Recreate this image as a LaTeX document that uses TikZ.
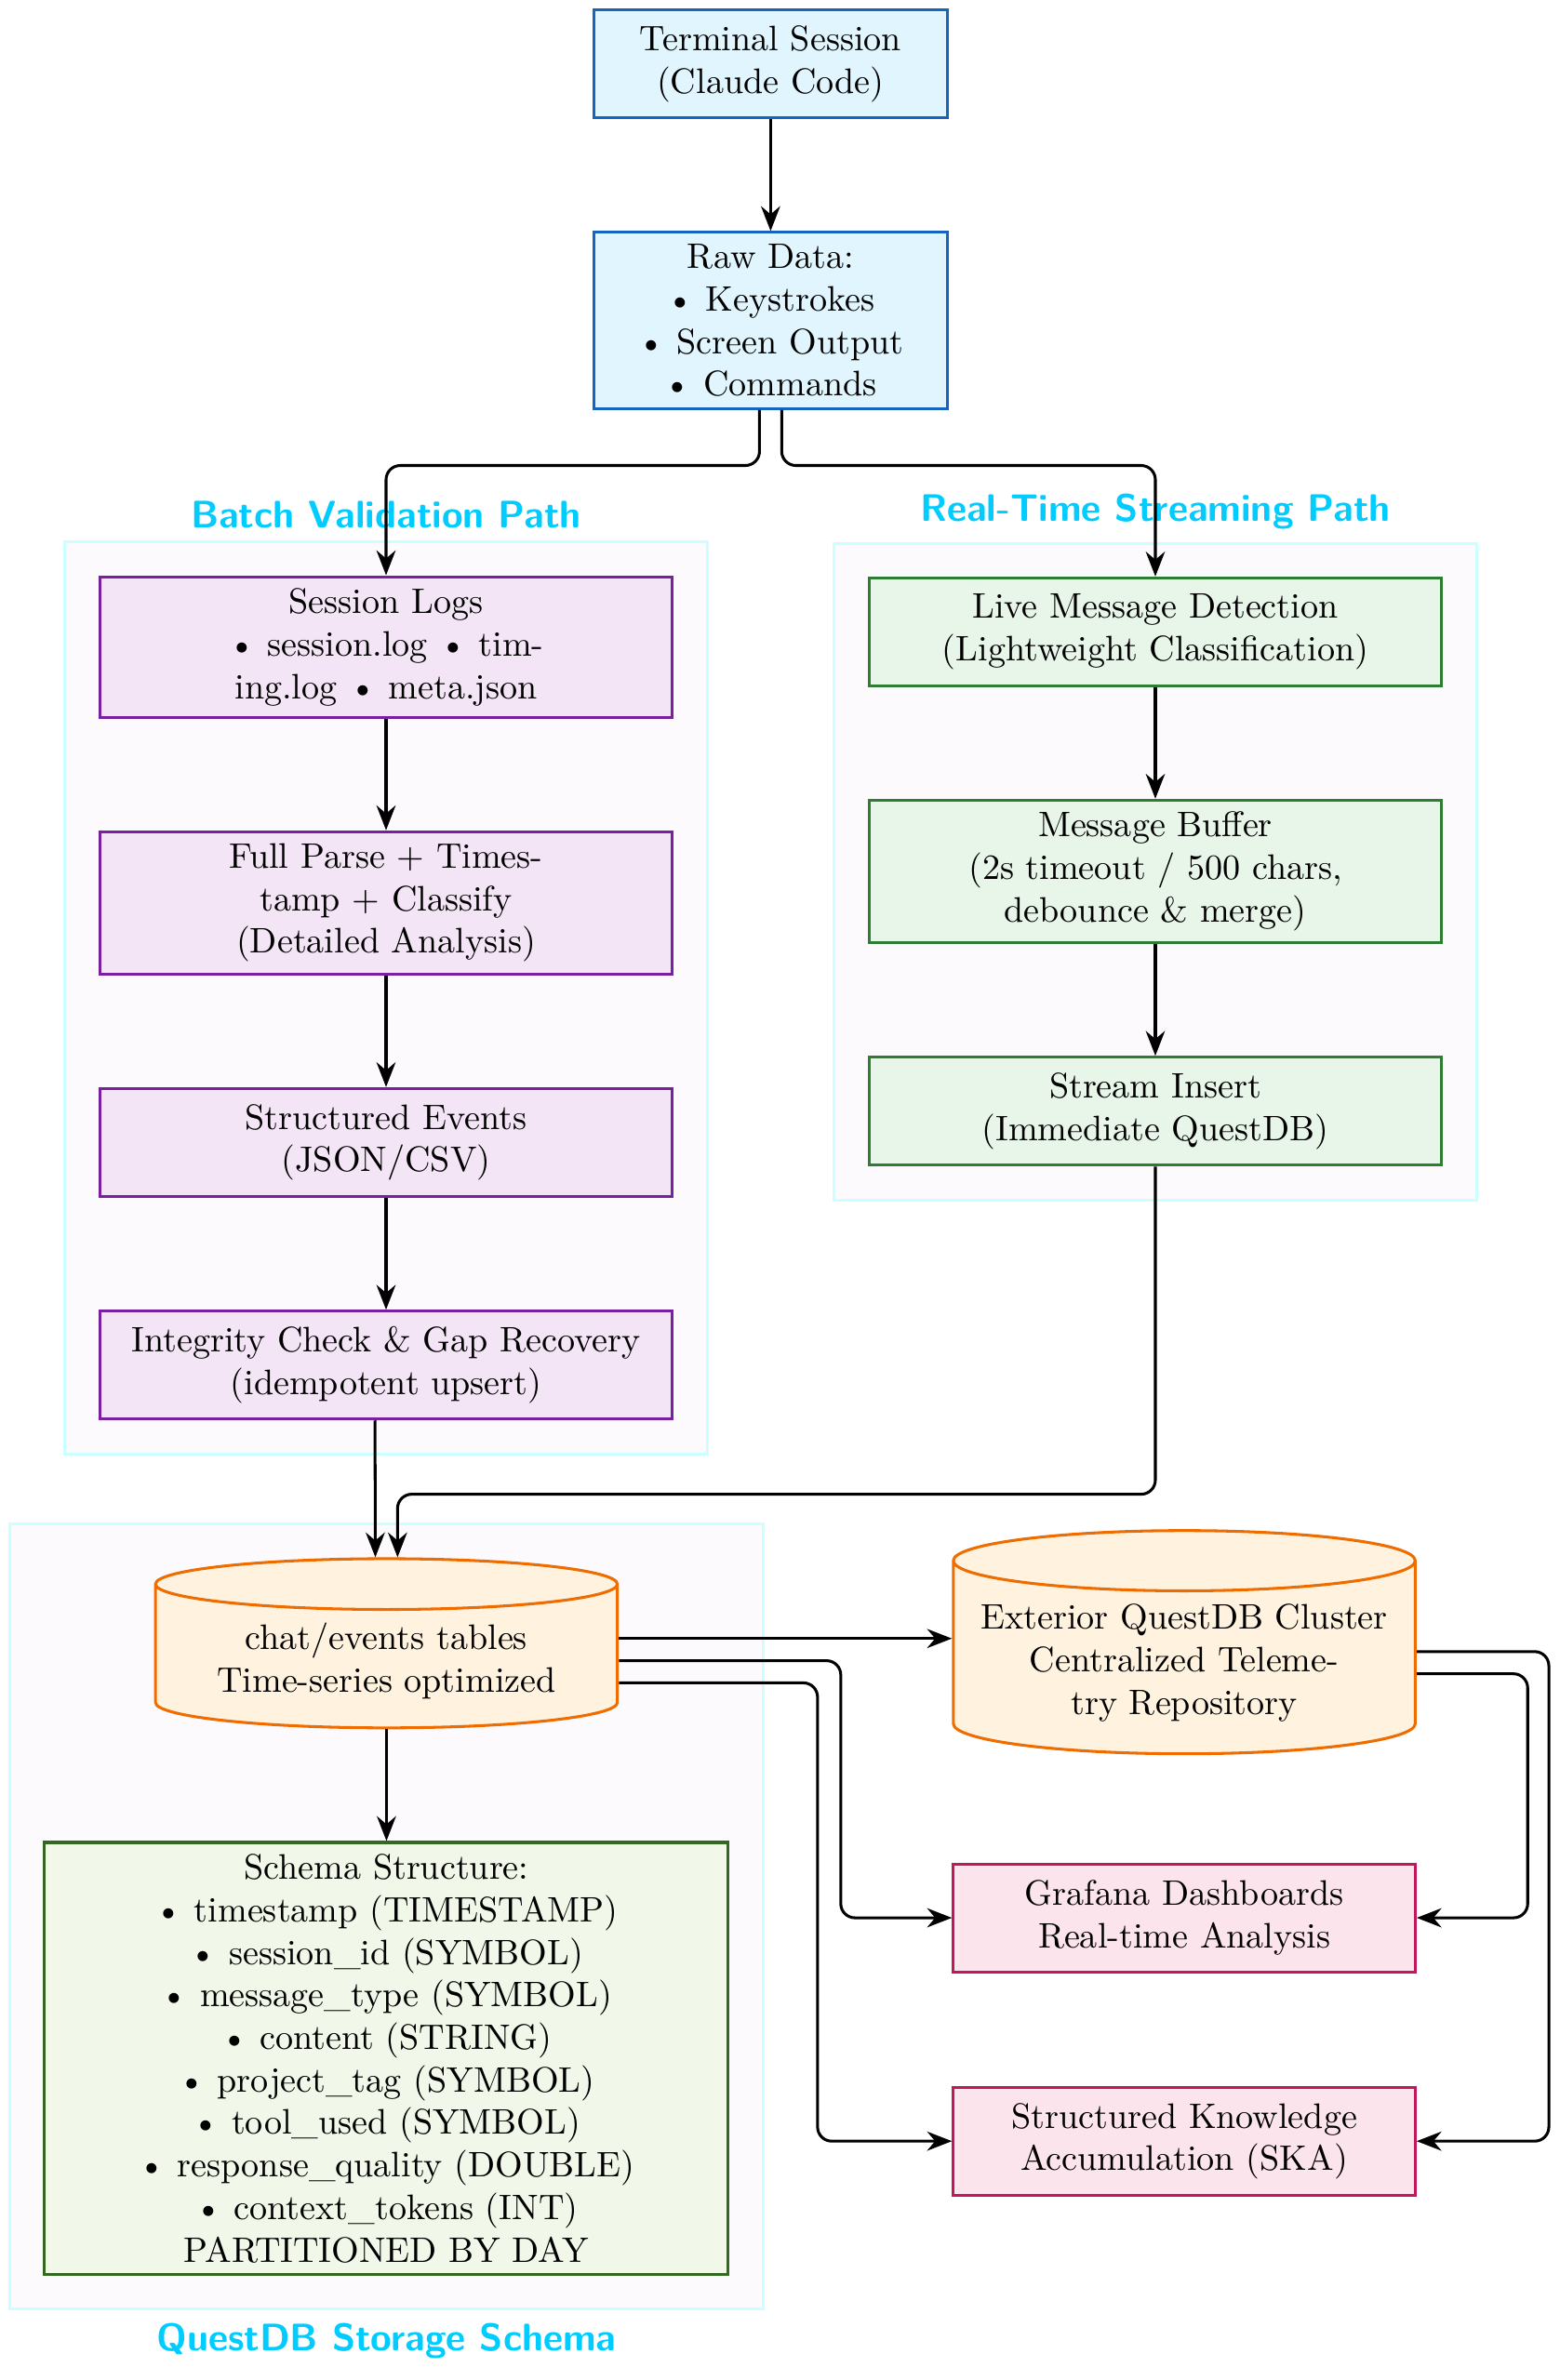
\documentclass[tikz,border=0pt]{standalone}
\usepackage{tikz}
\usetikzlibrary{arrows.meta}
\usetikzlibrary{calc}
\usetikzlibrary{fit}
\usetikzlibrary{backgrounds}
\usetikzlibrary{shapes.geometric}

\begin{document}
\begin{tikzpicture}[>={Stealth[length=7pt,width=5.4pt]},
    box/.style={draw, thick, align=center, minimum height=1.07cm},
    inputbox/.style={box, draw=blueline, fill=bluefill, minimum width=3.5cm},
    batchbox/.style={box, draw=purpleline, fill=purplefill, minimum width=5.68cm},
    streambox/.style={box, draw=greenline, fill=greenfill, minimum width=5.68cm},
    outbox/.style={box, draw=pinkline, fill=pinkfill, minimum width=4.58cm},
    dbnode/.style={cylinder, shape border rotate=90, aspect=0.14, draw=orangeline,
        fill=orangefill, thick, align=center, minimum width=4.58cm},
    group/.style={draw=framecyan, thick, fill=framefill, inner sep=0.33cm},
    grouptitle/.style={text=titlecyan, font=\fontsize{10.8}{13}\selectfont\sffamily\bfseries},
    conn/.style={->, thick, rounded corners=4pt}]

    % Colours
    \definecolor{blueline}{HTML}{1565C0}
    \definecolor{bluefill}{HTML}{E1F5FE}
    \definecolor{purpleline}{HTML}{7B1FA2}
    \definecolor{purplefill}{HTML}{F3E5F5}
    \definecolor{greenline}{HTML}{2E7D32}
    \definecolor{greenfill}{HTML}{E8F5E9}
    \definecolor{schemaline}{HTML}{33691E}
    \definecolor{schemafill}{HTML}{F1F8E9}
    \definecolor{orangeline}{HTML}{EF6C00}
    \definecolor{orangefill}{HTML}{FFF3E0}
    \definecolor{pinkline}{HTML}{C2185B}
    \definecolor{pinkfill}{HTML}{FCE4EC}
    \definecolor{titlecyan}{rgb}{0, 0.8, 1}
    \definecolor{framecyan}{rgb}{0.8, 1, 1}
    \definecolor{framefill}{HTML}{FDFAFD}

    % Page with margins
    \useasboundingbox (0,0) rectangle (15.468,-23.604);

    % Input
    \node[inputbox] (term) at (7.641,-0.634) {Terminal Session\\(Claude Code)};
    \node[inputbox] (raw) at (7.641,-3.179)
        {Raw Data:\\\textbullet\ Keystrokes\\\textbullet\ Screen Output\\\textbullet\ Commands};

    % Batch path
    \node[batchbox] (logs) at (3.828,-6.418)
        {Session Logs\\\textbullet\ session.log \textbullet\ tim-\\ing.log \textbullet\ meta.json};
    \node[batchbox] (parse) at (3.828,-8.953)
        {Full Parse + Times-\\tamp + Classify\\(Detailed Analysis)};
    \node[batchbox] (events) at (3.828,-11.33) {Structured Events\\(JSON/CSV)};
    \node[batchbox] (check) at (3.828,-13.538)
        {Integrity Check \& Gap Recovery\\(idempotent upsert)};

    % Streaming path
    \node[streambox] (detect) at (11.456,-6.266)
        {Live Message Detection\\(Lightweight Classification)};
    \node[streambox] (buffer) at (11.456,-8.642)
        {Message Buffer\\(2s timeout / 500 chars,\\debounce \& merge)};
    \node[streambox] (insert) at (11.456,-11.02) {Stream Insert\\(Immediate QuestDB)};

    % Storage
    \node[dbnode] (chat) at (3.832,-16.47) {chat/events tables\\Time-series optimized};
    \node[dbnode] (cluster) at (11.743,-16.49)
        {Exterior QuestDB Cluster\\Centralized Teleme-\\try Repository};
    \node[box, draw=schemaline, fill=schemafill, minimum width=6.78cm] (schema) at (3.832,-20.415)
        {Schema Structure:\\
         \textbullet\ timestamp (TIMESTAMP)\\
         \textbullet\ session\_id (SYMBOL)\\
         \textbullet\ message\_type (SYMBOL)\\
         \textbullet\ content (STRING)\\
         \textbullet\ project\_tag (SYMBOL)\\
         \textbullet\ tool\_used (SYMBOL)\\
         \textbullet\ response\_quality (DOUBLE)\\
         \textbullet\ context\_tokens (INT)\\
         PARTITIONED BY DAY};

    % Outputs
    \node[outbox] (grafana) at (11.743,-19.02) {Grafana Dashboards\\Real-time Analysis};
    \node[outbox] (ska) at (11.743,-21.235) {Structured Knowledge\\Accumulation (SKA)};

    % Group frames
    \begin{scope}[on background layer]
        \node[group, fit=(logs)(check),
            label={[grouptitle]above:Batch Validation Path}] (batchframe) {};
        \node[group, fit=(detect)(insert),
            label={[grouptitle]above:Real-Time Streaming Path}] (streamframe) {};
        \node[group, fit=(chat)(schema),
            label={[grouptitle]below:QuestDB Storage Schema}] (storeframe) {};
    \end{scope}

    % Connectors
    \draw[conn] (term) -- (raw);
    \draw[conn] ($(raw.south)+(-0.11,0)$) -- ++(0,-0.55) -| (logs.north);
    \draw[conn] ($(raw.south)+(0.11,0)$) -- ++(0,-0.55) -| (detect.north);

    \draw[conn] (logs) -- (parse);
    \draw[conn] (parse) -- (events);
    \draw[conn] (events) -- (check);
    \draw[conn] (detect) -- (buffer);
    \draw[conn] (buffer) -- (insert);

    \draw[conn] ($(check.south)+(-0.11,0)$) -- ($(chat.north)+(-0.11,0)$);
    \draw[conn] (insert.south) -- ++(0,-3.25) -| ($(chat.north)+(0.11,0)$);

    \coordinate (chatout) at ($(chat.east)+(0,0.22)$);
    \draw[conn] (chatout) -- (chatout -| cluster.west);
    \draw[conn] (chat.east) -- ++(2.2,0) |- (grafana.west);
    \draw[conn] ($(chat.east)+(0,-0.22)$) -- ++(1.97,0) |- (ska.west);
    \draw[conn] ($(cluster.east)+(0,0.11)$) -- ++(1.31,0) |- (ska.east);
    \draw[conn] ($(cluster.east)+(0,-0.11)$) -- ++(1.1,0) |- (grafana.east);
    \draw[conn] (chat) -- (schema);

\end{tikzpicture}
\end{document}
